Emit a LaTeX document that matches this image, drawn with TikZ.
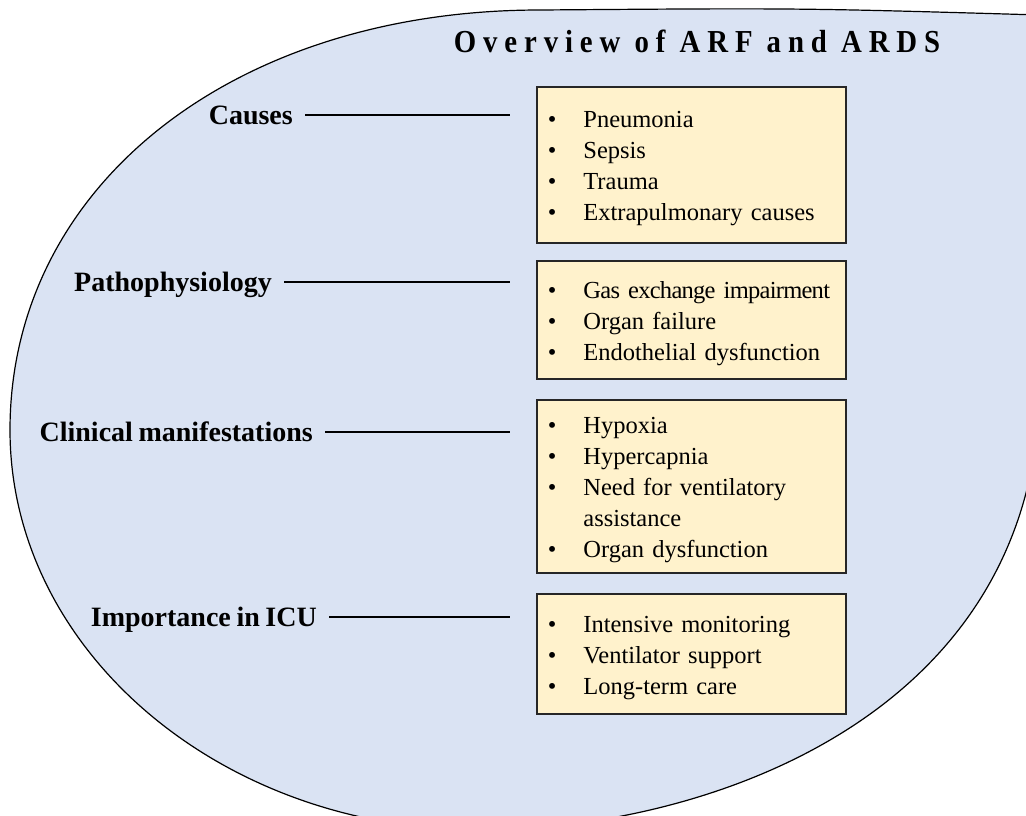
\documentclass[tikz,border=0pt]{standalone}
\usepackage{fontspec}
\setmainfont{Liberation Serif}[WordSpace=0.8]
\newfontfamily\spacedserif[LetterSpace=24]{Liberation Serif}

\definecolor{blobblue}{RGB}{218,227,243}
\definecolor{noteyellow}{RGB}{255,242,204}
\definecolor{noteedge}{RGB}{38,38,38}

\tikzset{
  topic/.style={font=\bfseries\fontsize{28}{34}\selectfont,inner sep=0pt,
    text height=18pt,text depth=0pt,anchor=base east},
  notebox/.style={draw=noteedge,line width=1.6pt,fill=noteyellow,anchor=north west,
    text width=287pt,inner xsep=11pt,inner ysep=0pt,align=left,
    font=\fontsize{24.5}{31}\selectfont},
  link/.style={line width=1.6pt,shorten <=12pt,shorten >=26pt},
}
% bullet list set as a two column table, sitting a little low in its box
\newcommand{\points}[1]{\raisebox{-3pt}[\height][\depth]{%
  \begin{tabular}{@{}l@{\hspace{27pt}}l@{}}#1\end{tabular}}}
\newcommand{\tight}[1]{{\addfontfeature{LetterSpace=-3}#1}}

\begin{document}
\begin{tikzpicture}[x=1pt,y=-1pt]
  \useasboundingbox (0,0) rectangle (1026,815);

  % big rounded backdrop, running off the right and bottom edges
  \begin{scope}
    \clip (0,0) rectangle (1026,815);
    \filldraw[fill=blobblue,draw=black,line width=1.2pt]
      (540,10) .. controls (233,10) and (10,186) .. (10,430)
      .. controls (10,650) and (220,830) .. (480,830)
      .. controls (700,830) and (1040,720) .. (1040,380)
      -- (1040,15) .. controls (800,8) .. cycle;
  \end{scope}

  \node[font=\spacedserif\bfseries\fontsize{32}{38}\selectfont,anchor=base] (title)
    at (697,52) {\scalebox{0.9}[1]{Overview of ARF and ARDS}};

  \node[topic] (causes) at (293,124) {Causes};
  \node[topic] (patho) at (272,291) {Pathophysiology};
  \node[topic] (clin) at (313,441) {Clinical manifestations};
  \node[topic] (icu) at (317,626) {Importance in ICU};

  \node[notebox,minimum height=156pt] (causes-box) at (536,86) {\points{
    \textbullet & Pneumonia\\
    \textbullet & Sepsis\\
    \textbullet & Trauma\\
    \textbullet & Extrapulmonary causes}};
  \node[notebox,minimum height=118pt] (patho-box) at (536,260) {\points{
    \textbullet & \tight{Gas exchange impairment}\\
    \textbullet & Organ failure\\
    \textbullet & Endothelial dysfunction}};
  \node[notebox,minimum height=173pt] (clin-box) at (536,399) {\points{
    \textbullet & Hypoxia\\
    \textbullet & Hypercapnia\\
    \textbullet & Need for ventilatory\\
                & assistance\\
    \textbullet & Organ dysfunction}};
  \node[notebox,minimum height=120pt] (icu-box) at (536,593) {\points{
    \textbullet & Intensive monitoring\\
    \textbullet & Ventilator support\\
    \textbullet & Long-term care}};

  \foreach \n in {causes,patho,clin,icu}
    \draw[link] (\n.east) -- (\n.east -| \n-box.west);
\end{tikzpicture}
\end{document}
